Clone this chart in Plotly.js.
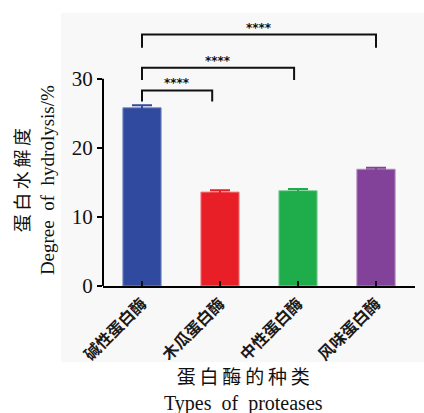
<!DOCTYPE html>
<html>
<head>
<meta charset="utf-8">
<script src="https://cdn.plot.ly/plotly-3.0.1.min.js"></script>
<style>html,body{margin:0;padding:0;background:#fff;}#chart{width:424px;height:413px;}</style>
</head>
<body>
<div id="chart"></div>
<script>
// Data
const categories = ["碱性蛋白酶", "木瓜蛋白酶", "中性蛋白酶", "风味蛋白酶"];
const hydrolysis = [25.8, 13.6, 13.8, 16.9];
const errors = [0.35, 0.25, 0.25, 0.2];
const barColors = ["#2f4a9e", "#e81f27", "#1fac4b", "#83429a"];
const edgeColors = ["#7d8cc6", "#f08a8e", "#86d29f", "#b48cc2"];
const yTicks = [0, 10, 20, 30];
// significance comparisons: start position, end position, bracket height, leg bottom, label
const cmpStart = [0, 0, 0];
const cmpEnd = [0.9, 1.95, 3];
const cmpTop = [28.3, 31.6, 36.4];
const cmpBottom = [26.7, 29.8, 34.5];
const cmpLabel = ["****", "****", "****"];

const traces = categories.map((c, i) => ({
  type: "bar",
  x: [i],
  y: [hydrolysis[i]],
  width: 0.49,
  marker: {color: barColors[i], line: {color: edgeColors[i], width: 1}},
  error_y: {type: "data", array: [errors[i]], visible: true, color: barColors[i], thickness: 2, width: 10},
  showlegend: false,
  hoverinfo: "skip"
}));

const shapes = [
  {type: "rect", xref: "paper", yref: "paper", x0: -0.135, x1: 1.03, y0: -0.286, y1: 1.027,
   fillcolor: "#f8f8f8", line: {width: 0}, layer: "below"},
  {type: "line", xref: "paper", yref: "y", x0: 0, x1: 0, y0: 0, y1: 30, line: {color: "#000", width: 2}}
];
const annotations = [];
for (let k = 0; k < cmpStart.length; k++) {
  shapes.push({type: "path", xref: "x", yref: "y",
    path: `M ${cmpStart[k]},${cmpBottom[k]} L ${cmpStart[k]},${cmpTop[k]} L ${cmpEnd[k]},${cmpTop[k]} L ${cmpEnd[k]},${cmpBottom[k]}`,
    line: {color: "#111", width: 2}});
  annotations.push({xref: "x", yref: "y", x: (cmpStart[k] + cmpEnd[k]) / 2, y: cmpTop[k],
    yanchor: "bottom", yshift: -2, showarrow: false, text: cmpLabel[k],
    font: {family: "DejaVu Sans", size: 12, color: "#111", weight: "bold"}});
}
const sp = "\u2009";
annotations.push({xref: "paper", yref: "paper", x: -0.218, y: 0.398, xanchor: "center", yanchor: "middle",
  showarrow: false, textangle: -90,
  text: "<span style='font-size:18px'>" + "蛋白水解度".split("").join(sp) + "</span><br>Degree\u00a0\u00a0of\u00a0\u00a0hydrolysis/%",
  font: {family: "Liberation Serif, Noto Sans CJK SC, serif", size: 19, color: "#111"}});
annotations.push({xref: "paper", yref: "paper", x: 0.449, y: -0.393, xanchor: "center", yanchor: "middle",
  showarrow: false,
  text: "<span style='font-size:19px'>" + "蛋白酶的种类".split("").join(sp) + "</span><br>Types\u00a0\u00a0of\u00a0\u00a0proteases",
  font: {family: "Liberation Serif, Noto Sans CJK SC, serif", size: 20, color: "#111"}});

const layout = {
  width: 424, height: 413,
  margin: {l: 103, r: 9, t: 20, b: 127},
  paper_bgcolor: "#ffffff",
  plot_bgcolor: "rgba(0,0,0,0)",
  barmode: "overlay",
  xaxis: {
    range: [-0.5, 3.5], tickvals: [0, 1, 2, 3], ticktext: categories,
    tickangle: -45, ticks: "inside", ticklen: 5, tickwidth: 2, tickcolor: "#111",
    showline: true, linecolor: "#000", linewidth: 2, showgrid: false, zeroline: false,
    tickfont: {family: "Noto Sans CJK SC", size: 16, color: "#1a1a1a", weight: "bold"}
  },
  yaxis: {
    range: [0, 38.5], tickvals: yTicks, ticks: "outside", ticklen: 5, tickwidth: 2, tickcolor: "#000",
    showline: false, showgrid: false, zeroline: false,
    tickfont: {family: "Liberation Serif, serif", size: 21, color: "#111"}
  },
  shapes: shapes,
  annotations: annotations
};
Plotly.newPlot("chart", traces, layout, {displayModeBar: false, staticPlot: true});
</script>
</body>
</html>
